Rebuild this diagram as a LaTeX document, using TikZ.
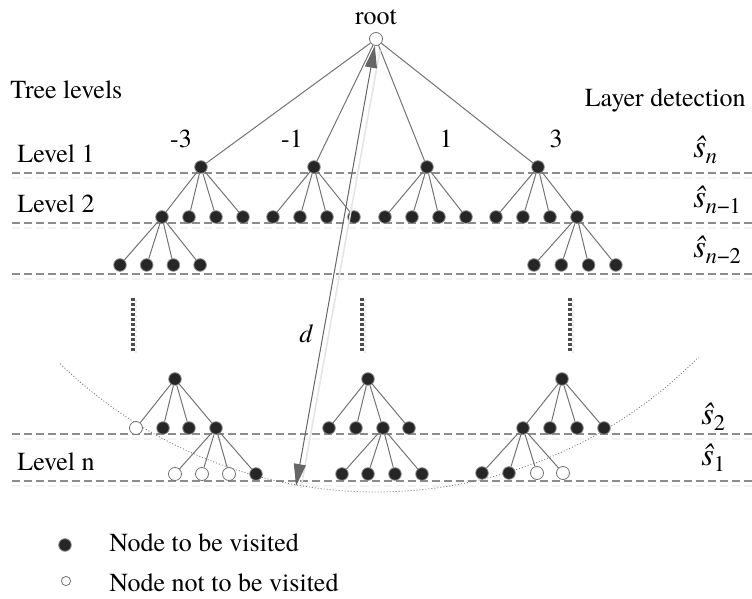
\documentclass[tikz,border=0pt]{standalone}
\usepackage{fontspec}
\setmainfont{TeX Gyre Termes}
\usetikzlibrary{arrows.meta}
\begin{document}
\begin{tikzpicture}[x=0.5pt,y=-0.5pt,
  font=\fontsize{13}{15}\selectfont,
  vis/.style={circle, fill=black!85, draw=black!45, line width=0.4pt, inner sep=0pt, minimum size=6.3pt},
  nvis/.style={circle, fill=white, draw=black!55, line width=0.4pt, inner sep=0pt, minimum size=6.5pt},
  edge/.style={draw=black!55, line width=0.5pt},
  levelline/.style={draw=black!45, line width=0.6pt, dash pattern=on 4pt off 2pt},
  levelshadow/.style={draw=black!5, line width=0.6pt, dash pattern=on 4pt off 2pt},
  vdots/.style={draw=black!70, line width=1.6pt, dash pattern=on 1.6pt off 0.9pt},
  vdotsh/.style={draw=black!8, line width=1.4pt, dash pattern=on 1.6pt off 0.9pt},
  lbl/.style={inner sep=0pt, anchor=base west},
  lblc/.style={inner sep=0pt, anchor=base},
  shat/.style={inner sep=0pt, anchor=base west, font=\fontsize{16}{18}\selectfont\itshape},
]
\useasboundingbox (0,0) rectangle (752,599);

% level lines
\foreach \yy/\nm in {173/a,223/b,274/c,434/d,481/e}{
  \coordinate (ll\nm) at (12,\yy);
  \coordinate (lr\nm) at (752,\yy);
  \coordinate (sll\nm) at (12,\yy+5);
  \coordinate (slr\nm) at (752,\yy+5);
  \draw[levelshadow] (sll\nm) -- (slr\nm);
  \draw[levelline] (ll\nm) -- (lr\nm);
}

% vertical dotted continuation marks
\foreach \xx/\nm in {133/a,362/b,570/c}{
  \coordinate (vt\nm) at (\xx,298);
  \coordinate (vb\nm) at (\xx,352);
  \coordinate (svt\nm) at (\xx+3,300);
  \coordinate (svb\nm) at (\xx+3,354);
  \draw[vdotsh] (svt\nm) -- (svb\nm);
  \draw[vdots] (vt\nm) -- (vb\nm);
}

% arc of radius d
\draw[black!55, line width=0.4pt, dash pattern=on 0.5pt off 1pt]
  plot[domain=-44.2:45.4, samples=90] ({376+453*sin(\x)},{39+453*cos(\x)});

% root and level 1
\node[nvis] (root) at (376,39) {};
\node[lblc] (rootlbl) at (376,25) {root};
\foreach \xx/\nm in {201/A,314/B,427/C,538/D}{
  \node[vis] (\nm) at (\xx,167) {};
  \draw[edge] (root) -- (\nm);
}
\node[lblc] (lA) at (181,148) {-3};
\node[lblc] (lB) at (292,148) {-1};
\node[lblc] (lC) at (446,148) {1};
\node[lblc] (lD) at (556,148) {3};

% level 2
\foreach \p/\xa in {A/162,B/273,C/385,D/496}{
  \foreach \i in {0,1,2,3}{
    \node[vis] (\p\i) at ({\xa+27*\i},217) {};
    \draw[edge] (\p) -- (\p\i);
  }
}
% level 3
\foreach \i in {0,1,2,3}{
  \node[vis] (E\i) at ({120+26.7*\i},265) {};
  \draw[edge] (A0) -- (E\i);
  \node[vis] (F\i) at ({534+27.3*\i},265) {};
  \draw[edge] (D3) -- (F\i);
}

% bottom left subtree
\node[vis] (P) at (175,379) {};
\node[nvis] (P0) at (136,428) {};
\node[vis] (P1) at (163,428) {};
\node[vis] (P2) at (189,428) {};
\node[vis] (P3) at (216,428) {};
\foreach \i in {0,1,2,3}{\draw[edge] (P) -- (P\i);}
\node[nvis] (PP0) at (175,474) {};
\node[nvis] (PP1) at (202,474) {};
\node[nvis] (PP2) at (229,474) {};
\node[vis]  (PP3) at (256,474) {};
\foreach \i in {0,1,2,3}{\draw[edge] (P3) -- (PP\i);}

% bottom middle subtree
\node[vis] (Q) at (368,379) {};
\foreach \i/\xx in {0/329,1/356,2/383,3/409}{
  \node[vis] (Q\i) at (\xx,428) {};
  \draw[edge] (Q) -- (Q\i);
}
\foreach \i/\xx in {0/342,1/368,2/395,3/422}{
  \node[vis] (QQ\i) at (\xx,474) {};
  \draw[edge] (Q2) -- (QQ\i);
}

% bottom right subtree
\node[vis] (S) at (562,379) {};
\foreach \i/\xx in {0/523,1/550,2/577,3/604}{
  \node[vis] (S\i) at (\xx,428) {};
  \draw[edge] (S) -- (S\i);
}
\node[vis]  (SS0) at (482,473) {};
\node[vis]  (SS1) at (509,473) {};
\node[nvis] (SS2) at (537,473) {};
\node[nvis] (SS3) at (563,473) {};
\foreach \i in {0,1,2,3}{\draw[edge] (S0) -- (SS\i);}

% distance arrow d
\coordinate (dend) at (296,486);
\coordinate (dshs) at (380,50);
\coordinate (dshe) at (301,488);
\draw[black!10, line width=0.8pt] (dshs) -- (dshe);
\draw[edge, {Triangle[length=11pt,width=6pt,fill=black!60]}-{Triangle[length=11pt,width=6pt,fill=black!60]}, draw=black!60]
  (root) -- (dend);
\node[lbl, font=\fontsize{13}{15}\selectfont\itshape] (dlbl) at (299,343) {d};

% left labels
\node[lbl] (tl) at (10,99) {Tree levels};
\node[lbl] (lv1) at (17,163) {Level 1};
\node[lbl] (lv2) at (17,213) {Level 2};
\node[lbl] (lvn) at (17,471) {Level n};

% right labels
\node[inner sep=0pt, anchor=base east] (ld) at (746,107) {Layer detection};
\node[shat] (s1) at (693,158) {ŝ\textsubscript{n}};
\node[shat] (s2) at (693,208) {ŝ\textsubscript{n\upshape −1}};
\node[shat] (s3) at (693,258) {ŝ\textsubscript{n\upshape −2}};
\node[shat] (s4) at (701,425) {ŝ\textsubscript{\upshape 2}};
\node[shat] (s5) at (701,466) {ŝ\textsubscript{\upshape 1}};

% legend
\node[vis, minimum size=6.3pt] (lg1) at (65,545) {};
\node[nvis, minimum size=4.6pt] (lg2) at (66,581) {};
\node[lbl] (lt1) at (109,552) {Node to be visited};
\node[lbl] (lt2) at (109,592) {Node not to be visited};
\end{tikzpicture}
\end{document}
